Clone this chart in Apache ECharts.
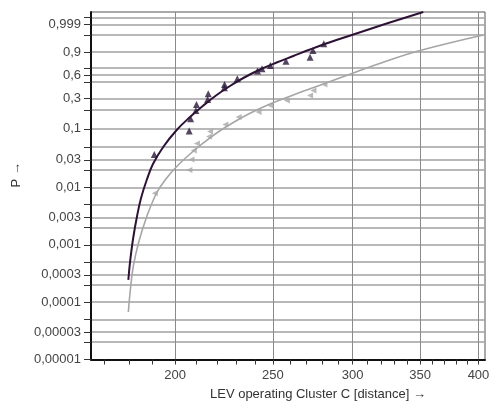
<!DOCTYPE html>
<html>
<head>
<meta charset="utf-8">
<title>LEV operating Cluster C</title>
<script src="https://cdn.jsdelivr.net/npm/echarts@6.0.0/dist/echarts.min.js"></script>
<style>html,body{margin:0;padding:0;background:#fff;}</style>
</head>
<body>
<div id="main" style="width:494px;height:411px;"></div>
<script>
// axis ranges (distance on a log scale, P on a Weibull probability scale)
var xMin = 165, xMax = 406;
var pMin = 0.00001, pMax = 0.99999;

var xTickValues = [170, 180, 190, 200, 210, 220, 230, 240, 250, 260, 270, 280, 290,
    300, 310, 320, 330, 340, 350, 360, 370, 380, 390, 400];
var xLabelValues = [200, 250, 300, 350, 400];

var pGridValues = [0.9999, 0.999, 0.99, 0.9, 0.7, 0.6, 0.5, 0.3, 0.2, 0.1, 0.05, 0.03, 0.02,
    0.01, 0.005, 0.003, 0.002, 0.001, 0.0005, 0.0003, 0.0002, 0.0001, 0.00005, 0.00003,
    0.00002, 0.00001];
var pLabelValues = [0.999, 0.9, 0.6, 0.3, 0.1, 0.03, 0.01, 0.003, 0.001, 0.0003, 0.0001,
    0.00003, 0.00001];

// measured points [distance, P]
var darkPoints = [[190.7, 0.037], [206.5, 0.0925], [207.2, 0.146], [209.7, 0.198], [210.0, 0.245],
    [215.4, 0.291], [215.7, 0.351], [223.8, 0.423], [223.9, 0.466], [230.5, 0.546],
    [241.4, 0.658], [243.9, 0.693], [248.6, 0.74], [257.6, 0.798], [272.2, 0.845],
    [274.0, 0.915], [280.9, 0.96]];
var grayPoints = [[190.9, 0.0079], [206.6, 0.0199], [207.6, 0.0304], [208.7, 0.0434],
    [210.2, 0.0571], [216.1, 0.0749], [216.6, 0.0908], [224.3, 0.1184], [231.2, 0.1555],
    [242.0, 0.1867], [248.6, 0.2368], [258.2, 0.2815], [272.2, 0.3324], [274.3, 0.3897],
    [281.3, 0.4664]];

// fitted curves [distance, P]
var darkCurve = [[179.7, 0.000244], [180.4, 0.000502], [181.7, 0.001316], [183.4, 0.00331],
    [185.0, 0.00653], [187.4, 0.01342], [190.1, 0.02538], [194.6, 0.0496], [200.7, 0.0958],
    [206.9, 0.1561], [213.3, 0.2362], [219.9, 0.3368], [226.7, 0.4454], [233.7, 0.5564],
    [242.8, 0.6813], [252.2, 0.7801], [262.0, 0.8601], [272.2, 0.9222], [284.9, 0.9674],
    [300.5, 0.99057], [324.3, 0.99929], [352.6, 0.99999]];
var grayCurve = [[179.7, 0.0000674], [180.6, 0.0001767], [181.7, 0.000411], [183.9, 0.001076],
    [187.4, 0.003097], [191.7, 0.00799], [195.8, 0.01397], [200.7, 0.02298], [206.9, 0.0377],
    [213.3, 0.058], [219.9, 0.0854], [228.4, 0.1272], [237.3, 0.1787], [248.4, 0.2488],
    [262.0, 0.3368], [272.2, 0.4095], [284.9, 0.5065], [300.5, 0.6298], [324.3, 0.7998],
    [350.0, 0.9139], [404.4, 0.98965]];

function lx(t) { return Math.log(t); }
function wy(p) { return Math.log(-Math.log(1 - p)); }
function toXY(arr) { return arr.map(function (d) { return [lx(d[0]), wy(d[1])]; }); }

var font = 'Liberation Sans, Arial, sans-serif';
var myChart = echarts.init(document.getElementById('main'));

myChart.setOption({
    animation: false,
    backgroundColor: '#fff',
    grid: {
        left: 91, top: 12, right: 9, bottom: 51.5,
        show: true, borderColor: '#555', borderWidth: 1,
        outerBoundsMode: 'none'
    },
    xAxis: [{
        type: 'value',
        min: lx(xMin), max: lx(xMax),
        name: 'LEV operating Cluster C [distance] \u2192',
        nameLocation: 'middle',
        nameGap: 28,
        nameTextStyle: { fontFamily: font, fontSize: 13, color: '#333', padding: [0, 0, 0, 60] },
        axisLine: { onZero: false, lineStyle: { color: '#111', width: 2 } },
        axisTick: { length: 5, lineStyle: { color: '#333' }, customValues: xTickValues.map(lx) },
        axisLabel: {
            margin: 9, fontFamily: font, fontSize: 13, color: '#444',
            customValues: xLabelValues.map(lx),
            formatter: function (v) { return String(Math.round(Math.exp(v))); }
        },
        splitLine: { show: false }
    }, {
        type: 'value',
        min: lx(xMin), max: lx(xMax),
        position: 'bottom',
        axisLine: { show: false },
        axisTick: { show: false, customValues: xLabelValues.map(lx) },
        axisLabel: { show: false },
        splitLine: { show: true, lineStyle: { color: '#8a8a8a', width: 1 } }
    }],
    yAxis: {
        type: 'value',
        min: wy(pMin), max: wy(pMax),
        name: 'P \u2192',
        nameLocation: 'middle',
        nameRotate: 90,
        nameGap: 64,
        nameTextStyle: { fontFamily: font, fontSize: 13, color: '#333', padding: [0, 0, 0, 22] },
        axisLine: { onZero: false, lineStyle: { color: '#111', width: 2 } },
        axisTick: { length: 7, lineStyle: { color: '#333' }, customValues: pGridValues.map(wy) },
        axisLabel: {
            margin: 10, fontFamily: font, fontSize: 13, color: '#444',
            customValues: pLabelValues.map(wy),
            formatter: function (v) {
                var best = pLabelValues[0];
                pLabelValues.forEach(function (p) {
                    if (Math.abs(wy(p) - v) < Math.abs(wy(best) - v)) best = p;
                });
                return String(best).replace('.', ',');
            }
        },
        splitLine: { show: true, lineStyle: { color: '#a0a0a0', width: 1.5 } }
    },
    series: [{
        name: 'gray fit',
        type: 'line',
        data: toXY(grayCurve),
        smooth: 0.4,
        showSymbol: false,
        lineStyle: { color: '#a6a6a6', width: 1.6 },
        z: 3
    }, {
        name: 'dark fit',
        type: 'line',
        data: toXY(darkCurve),
        smooth: 0.4,
        showSymbol: false,
        lineStyle: { color: '#2e1236', width: 2 },
        z: 4
    }, {
        name: 'gray data',
        type: 'scatter',
        data: toXY(grayPoints),
        symbol: 'triangle',
        symbolRotate: 90,
        symbolSize: 6,
        itemStyle: { color: '#a8a8a8' },
        z: 5
    }, {
        name: 'dark data',
        type: 'scatter',
        data: toXY(darkPoints),
        symbol: 'triangle',
        symbolSize: 7,
        itemStyle: { color: '#2a1838' },
        z: 6
    }]
});
</script>
</body>
</html>
